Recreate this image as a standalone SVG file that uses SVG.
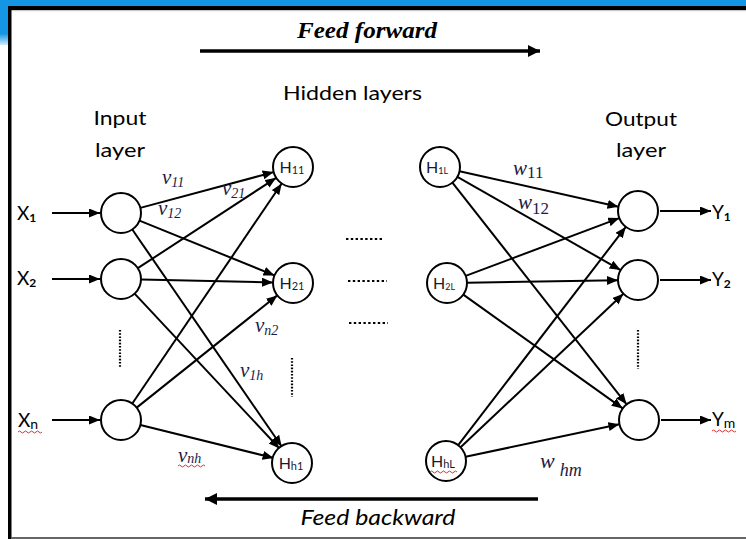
<svg xmlns="http://www.w3.org/2000/svg" width="746" height="539" viewBox="0 0 746 539">
<defs>
<marker id="ah" markerUnits="userSpaceOnUse" markerWidth="12" markerHeight="10" refX="11" refY="4.5" orient="auto"><path d="M0,0 L11,4.5 L0,9 z" fill="#000"/></marker>
<marker id="big" markerUnits="userSpaceOnUse" markerWidth="14" markerHeight="12" refX="12" refY="6" orient="auto"><path d="M0,0 L12,6 L0,12 z" fill="#000"/></marker>
<linearGradient id="fade" x1="0" y1="0" x2="0" y2="1"><stop offset="0" stop-color="#1496e4"/><stop offset="0.75" stop-color="#1496e4"/><stop offset="1" stop-color="#1496e4" stop-opacity="0.2"/></linearGradient>
</defs>
<style>
.n{fill:#fff;stroke:#000;stroke-width:2}
.e{stroke:#000;stroke-width:2;fill:none;marker-end:url(#ah)}
.big{stroke:#000;stroke-width:3.5;fill:none;marker-end:url(#big)}
.dots{stroke:#000;stroke-width:2.2;fill:none}
.sans{font-family:Lato,"Liberation Sans",sans-serif;fill:#000}
.hl{font-family:Lato,"Liberation Sans",sans-serif;font-size:16px;fill:#1a1a2e}
.wt{font-family:"Liberation Serif","Times New Roman",serif;font-style:italic;fill:#1c1c44}
.sq{stroke:#e03030;stroke-width:1;fill:none}
</style>

<!-- frame -->
<rect x="0" y="0" width="746" height="6" fill="#1496e4"/>
<rect x="0" y="0" width="8" height="45" fill="url(#fade)"/>
<rect x="8" y="6" width="738" height="4" fill="#000"/>
<rect x="11" y="10" width="735" height="1.2" fill="#c8c8c8"/>
<rect x="8" y="6" width="3.5" height="533" fill="#000"/>
<rect x="11" y="537" width="735" height="2" fill="#666"/>

<!-- titles -->
<text x="367" y="38" text-anchor="middle" font-family="Liberation Serif, Times New Roman, serif" font-weight="bold" font-style="italic" font-size="24" textLength="140" lengthAdjust="spacingAndGlyphs">Feed forward</text>
<line class="big" x1="200" y1="51" x2="540" y2="51"/>
<text class="sans" x="352.5" y="100" text-anchor="middle" font-size="20" textLength="139" lengthAdjust="spacingAndGlyphs">Hidden layers</text>
<text class="sans" x="120" y="125" text-anchor="middle" font-size="20" textLength="53" lengthAdjust="spacingAndGlyphs">Input</text>
<text class="sans" x="120" y="157" text-anchor="middle" font-size="20" textLength="50" lengthAdjust="spacingAndGlyphs">layer</text>
<text class="sans" x="641" y="126" text-anchor="middle" font-size="20" textLength="72" lengthAdjust="spacingAndGlyphs">Output</text>
<text class="sans" x="641" y="157" text-anchor="middle" font-size="20" textLength="50" lengthAdjust="spacingAndGlyphs">layer</text>
<line class="big" x1="538" y1="499" x2="205" y2="499"/>
<text class="sans" x="378" y="525" text-anchor="middle" font-size="21" font-style="italic" textLength="155" lengthAdjust="spacingAndGlyphs">Feed backward</text>

<!-- connectors -->
<g id="connectors">
<line class="e" x1="52" y1="213" x2="100" y2="213"/>
<line class="e" x1="52" y1="279" x2="100" y2="279"/>
<line class="e" x1="52" y1="420" x2="100" y2="420"/>
<line class="e" x1="140.3" y1="207.9" x2="273.7" y2="172.1"/>
<line class="e" x1="139.5" y1="220.6" x2="274.5" y2="275.4"/>
<line class="e" x1="132.3" y1="229.5" x2="281.7" y2="446.5"/>
<line class="e" x1="137.8" y1="268.2" x2="276.2" y2="177.8"/>
<line class="e" x1="141" y1="279.6" x2="273" y2="282.4"/>
<line class="e" x1="134.6" y1="293.6" x2="279.4" y2="448.4"/>
<line class="e" x1="132.3" y1="403.5" x2="281.7" y2="183.5"/>
<line class="e" x1="136.7" y1="407.6" x2="277.3" y2="295.4"/>
<line class="e" x1="140.4" y1="425" x2="273.6" y2="458"/>
<line class="e" x1="459.5" y1="171.3" x2="618.5" y2="206.7"/>
<line class="e" x1="457.4" y1="176.9" x2="620.6" y2="270.1"/>
<line class="e" x1="452.4" y1="182.7" x2="626.6" y2="404.3"/>
<line class="e" x1="465.7" y1="275.9" x2="619.3" y2="218.1"/>
<line class="e" x1="467" y1="282.7" x2="618" y2="280.3"/>
<line class="e" x1="463.3" y1="294.6" x2="622.7" y2="408.4"/>
<line class="e" x1="458.2" y1="445.1" x2="625.8" y2="226.9"/>
<line class="e" x1="460.6" y1="447.3" x2="623.4" y2="293.7"/>
<line class="e" x1="465.6" y1="456.8" x2="619.4" y2="424.2"/>
<line class="e" x1="660" y1="211" x2="711" y2="211"/>
<line class="e" x1="660" y1="280" x2="711" y2="280"/>
<line class="e" x1="661" y1="420" x2="711" y2="420"/>
</g>

<!-- dotted ellipses -->
<line class="dots" x1="120" y1="330" x2="120" y2="368" stroke-dasharray="1.6,1.6"/>
<line class="dots" x1="292" y1="358" x2="292" y2="397" stroke-dasharray="1.6,1.6"/>
<line class="dots" x1="638" y1="330" x2="638" y2="369" stroke-dasharray="1.6,1.6"/>
<line class="dots" x1="346" y1="239" x2="384" y2="239" stroke-dasharray="2.4,2.4"/>
<line class="dots" x1="348" y1="281" x2="387" y2="281" stroke-dasharray="2.4,2.4"/>
<line class="dots" x1="349" y1="323" x2="388" y2="323" stroke-dasharray="2.4,2.4"/>

<!-- input labels -->
<text class="sans" x="17" y="220" font-size="19">X<tspan font-size="12" font-weight="bold" dy="2">1</tspan></text>
<text class="sans" x="17" y="285" font-size="19">X<tspan font-size="12" font-weight="bold" dy="2">2</tspan></text>
<text class="sans" x="18" y="427" font-size="19">X<tspan font-size="14" dy="2">n</tspan></text>
<path class="sq" d="M18,432 q1.5,-2 3,0 t3,0 t3,0 t3,0 t3,0 t3,0 t3,0 t3,0"/>

<!-- output labels -->
<text class="sans" x="712" y="219" font-size="19">Y<tspan font-size="12" font-weight="bold" dy="2">1</tspan></text>
<text class="sans" x="712" y="286" font-size="19">Y<tspan font-size="12" font-weight="bold" dy="2">2</tspan></text>
<text class="sans" x="712" y="426" font-size="19">Y<tspan font-size="14" dy="2">m</tspan></text>
<path class="sq" d="M712,431 q1.5,-2 3,0 t3,0 t3,0 t3,0 t3,0 t3,0 t3,0 t3,0"/>

<!-- weight labels -->
<g id="weights">
<text class="wt" x="162" y="184" font-size="21">v<tspan font-size="14" dy="3">11</tspan></text>
<text class="wt" x="222" y="195" font-size="21">v<tspan font-size="14" dy="3">21</tspan></text>
<text class="wt" x="158" y="215" font-size="21">v<tspan font-size="14" dy="3">12</tspan></text>
<text class="wt" x="255" y="332" font-size="21">v<tspan font-size="14" dy="3">n2</tspan></text>
<text class="wt" x="240" y="377" font-size="21">v<tspan font-size="14" dy="3">1h</tspan></text>
<text class="wt" x="178" y="462" font-size="21">v<tspan font-size="14" dy="1">nh</tspan></text>
<path class="sq" d="M178,466 q1.5,-2 3,0 t3,0 t3,0 t3,0 t3,0 t3,0 t3,0 t3,0 t3,0"/>
<text class="wt" x="513" y="175" font-size="21">w<tspan font-size="17" font-style="normal" dy="3">11</tspan></text>
<text class="wt" x="518" y="209" font-size="21">w<tspan font-size="17" font-style="normal" dy="5">12</tspan></text>
<text class="wt" x="540" y="468" font-size="22">w<tspan font-size="18" dx="5" dy="8">hm</tspan></text>
</g>

<!-- input nodes -->
<g id="in1"><circle class="n" cx="121" cy="213" r="20"/></g>
<g id="in2"><circle class="n" cx="121" cy="279" r="20"/></g>
<g id="inn"><circle class="n" cx="121" cy="420" r="20"/></g>

<!-- hidden nodes -->
<g id="h11"><circle class="n" cx="293" cy="167" r="20"/><text class="hl" x="292" y="173" text-anchor="middle">H<tspan font-size="11" dy="1">11</tspan></text></g>
<g id="h21"><circle class="n" cx="293" cy="283" r="20"/><text class="hl" x="292" y="289" text-anchor="middle">H<tspan font-size="11" dy="1">21</tspan></text></g>
<g id="hh1"><circle class="n" cx="292" cy="463" r="20"/><text class="hl" x="291" y="469" text-anchor="middle">H<tspan font-size="11" dy="1">h1</tspan></text></g>
<g id="h1l"><circle class="n" cx="440" cy="167" r="20"/><text class="hl" x="437" y="173" text-anchor="middle">H<tspan font-size="9" dy="1">1L</tspan></text></g>
<g id="h2l"><circle class="n" cx="447" cy="283" r="20"/><text class="hl" x="444" y="289" text-anchor="middle">H<tspan font-size="9" dy="1">2L</tspan></text></g>
<g id="hhl"><circle class="n" cx="446" cy="461" r="20"/><text class="hl" x="443" y="467" text-anchor="middle">H<tspan font-size="11" dy="1">hL</tspan></text><path class="sq" d="M430,472 q1.5,-2 3,0 t3,0 t3,0 t3,0 t3,0 t3,0 t3,0 t3,0 t3,0"/></g>

<!-- output nodes -->
<g id="o1"><circle class="n" cx="638" cy="211" r="20"/></g>
<g id="o2"><circle class="n" cx="638" cy="280" r="20"/></g>
<g id="om"><circle class="n" cx="639" cy="420" r="20"/></g>
</svg>
